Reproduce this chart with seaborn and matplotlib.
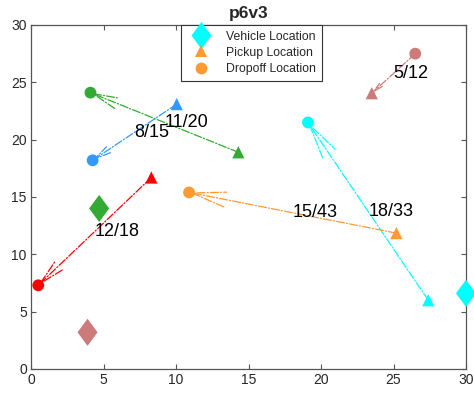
import numpy as np
import pandas as pd
import matplotlib
matplotlib.use("Agg")
import matplotlib.pyplot as plt
from matplotlib.path import Path
from matplotlib.lines import Line2D
import seaborn as sns

# ---- data ----
groups = ["cyan", "orange", "red", "blue", "green", "brown"]
group_colors = ["#00FFFF", "#FF9933", "#FF0000", "#3399FF", "#33AA33", "#CC7A7A"]
trip_labels = ["18/33", "15/43", "12/18", "8/15", "11/20", "5/12"]
pickup_x = [27.4, 25.2, 8.3, 10.05, 14.3, 23.5]
pickup_y = [6.0, 11.85, 16.7, 23.1, 18.9, 24.05]
dropoff_x = [19.1, 10.9, 0.5, 4.25, 4.1, 26.5]
dropoff_y = [21.5, 15.4, 7.3, 18.2, 24.1, 27.5]
arrow_head_at = ["dropoff", "dropoff", "dropoff", "dropoff", "dropoff", "pickup"]
vehicle_groups = ["cyan", "green", "brown"]
vehicle_x = [30.0, 4.7, 3.9]
vehicle_y = [6.6, 14.0, 3.2]
x_ticks = [0, 5, 10, 15, 20, 25, 30]
y_ticks = [0, 5, 10, 15, 20, 25, 30]
legend_labels = ["Vehicle Location", "Pickup Location", "Dropoff Location"]
title = "p6v3"

sns.set_style("ticks")
plt.rcParams["font.family"] = ["Liberation Sans", "DejaVu Sans"]

palette = dict(zip(groups, group_colors))
pick = pd.DataFrame({"g": groups, "x": pickup_x, "y": pickup_y})
drop = pd.DataFrame({"g": groups, "x": dropoff_x, "y": dropoff_y})
veh = pd.DataFrame({"g": vehicle_groups, "x": vehicle_x, "y": vehicle_y})

diamond = Path([(0, 1), (0.74, 0), (0, -1), (-0.74, 0), (0, 1)],
               [Path.MOVETO, Path.LINETO, Path.LINETO, Path.LINETO, Path.CLOSEPOLY])

fig = plt.figure(figsize=(4.74, 3.96), dpi=100)
ax = fig.add_axes([31 / 474, 27 / 396, 435 / 474, 344 / 396])
ax.set_xlim(0, 30)
ax.set_ylim(0, 30)

# arrows
to_pt = 72 / 100
for i, g in enumerate(groups):
    p = (pickup_x[i], pickup_y[i])
    d = (dropoff_x[i], dropoff_y[i])
    start, end = (p, d) if arrow_head_at[i] == "dropoff" else (d, p)
    s_px = ax.transData.transform(start)
    e_px = ax.transData.transform(end)
    L = np.hypot(*(e_px - s_px)) * to_pt
    hl = 0.16 * L
    hw = hl * 0.22
    ax.annotate("", xy=end, xytext=start, zorder=1,
                arrowprops=dict(arrowstyle=f"->,head_length={hl:.2f},head_width={hw:.2f}",
                                color=palette[g], lw=0.9, linestyle="-.",
                                shrinkA=0, shrinkB=0, mutation_scale=1))
    mx = (pickup_x[i] + dropoff_x[i]) / 2
    my = (pickup_y[i] + dropoff_y[i]) / 2
    ax.text(mx, my, trip_labels[i], ha="left", va="center", fontsize=13,
            color="black", zorder=5)

sns.scatterplot(data=pick, x="x", y="y", hue="g", palette=palette, marker="^",
                s=78, linewidth=0, legend=False, ax=ax, zorder=3)
sns.scatterplot(data=drop, x="x", y="y", hue="g", palette=palette, marker="o",
                s=72, linewidth=0, legend=False, ax=ax, zorder=3)
sns.scatterplot(data=veh, x="x", y="y", hue="g", palette=palette, marker=diamond,
                s=380, linewidth=0, legend=False, ax=ax, zorder=3, clip_on=False)

ax.set_xlim(0, 30)
ax.set_ylim(0, 30)
ax.set_xticks(x_ticks)
ax.set_yticks(y_ticks)
ax.set_xlabel("")
ax.set_ylabel("")
for s in ax.spines.values():
    s.set_visible(True)
    s.set_color("#555555")
    s.set_linewidth(0.9)
ax.tick_params(direction="in", length=3.5, width=0.8, color="#555555",
               labelsize=10, labelcolor="#262626", top=True, right=True, pad=3)
ax.set_title(title, fontsize=12.5, fontweight="bold", pad=5)

handles = [
    Line2D([], [], linestyle="none", marker=diamond, markersize=19.4,
           markerfacecolor=palette["cyan"], markeredgewidth=0),
    Line2D([], [], linestyle="none", marker="^", markersize=8.8,
           markerfacecolor=palette["orange"], markeredgewidth=0),
    Line2D([], [], linestyle="none", marker="o", markersize=8.5,
           markerfacecolor=palette["orange"], markeredgewidth=0),
]
leg = ax.legend(handles, legend_labels, loc="upper center", bbox_to_anchor=(0.506, 1.0),
                borderaxespad=0, fontsize=8.8, handlelength=2.5, labelspacing=0.35,
                handletextpad=0.8, borderpad=0.45, fancybox=False, framealpha=1,
                edgecolor="#333333")
leg.get_frame().set_linewidth(0.8)
leg.set_zorder(6)

fig.savefig("out.png", dpi=100)
